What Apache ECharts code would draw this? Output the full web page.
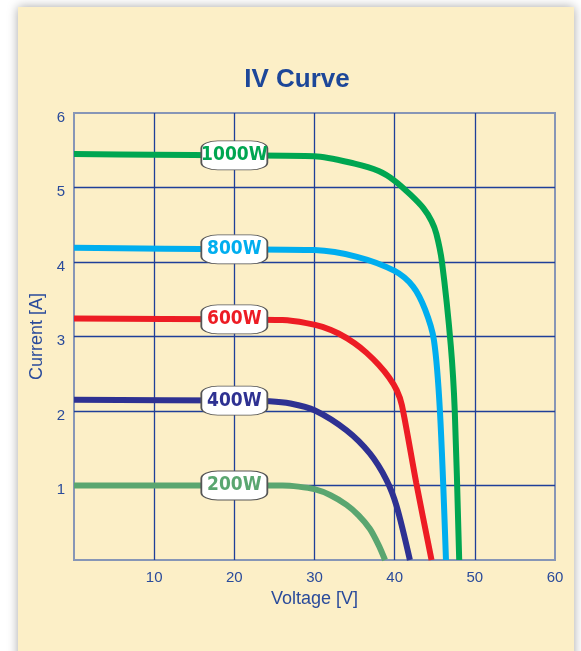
<!DOCTYPE html>
<html>
<head>
<meta charset="utf-8">
<script src="https://cdn.jsdelivr.net/npm/echarts@6/dist/echarts.min.js"></script>
<style>
  html, body { margin: 0; padding: 0; background: #fff; }
  #chart { width: 581px; height: 651px; }
</style>
</head>
<body>
<div id="chart"></div>
<script>
// values
const names = ['1000W', '800W', '600W', '400W', '200W'];
const colors = ['#00A651', '#00AEEF', '#ED1C24', '#2E3192', '#5AA670'];

const v1000 = [0, 10, 20, 30, 35, 38, 40, 42, 43.6, 44.6, 45.2, 45.9, 47.0, 47.5, 48.05];
const i1000 = [5.45, 5.44, 5.43, 5.42, 5.32, 5.22, 5.09, 4.9, 4.72, 4.55, 4.38, 4.0, 2.88, 1.99, 0];

const v800 = [0, 20, 30, 35.3, 40, 42.3, 43.8, 44.9, 45.65, 46.4];
const i800 = [4.19, 4.17, 4.16, 4.07, 3.88, 3.67, 3.36, 2.95, 1.99, 0];

const v600 = [0, 20, 26, 29, 31, 33, 35, 36.5, 38, 39.3, 40.25, 40.9, 42.7, 44.6];
const i600 = [3.24, 3.23, 3.22, 3.18, 3.13, 3.04, 2.91, 2.78, 2.62, 2.45, 2.28, 2.08, 1.03, 0];

const v400 = [0, 20, 24.4, 27, 30, 34, 36.9, 39, 40.25, 41.9];
const i400 = [2.15, 2.14, 2.13, 2.1, 2.01, 1.74, 1.43, 1.07, 0.72, 0];

const v200 = [0, 20, 26, 28, 30, 32, 34, 35.5, 36.9, 38, 38.8];
const i200 = [1.0, 1.0, 1.0, 0.985, 0.95, 0.87, 0.74, 0.6, 0.42, 0.2, 0];

const voltages = [v1000, v800, v600, v400, v200];
const currents = [i1000, i800, i600, i400, i200];
const labelVoltage = 20;

const xTicks = [0, 10, 20, 30, 40, 50, 60];
const yTicks = [0, 1, 2, 3, 4, 5, 6];

const myChart = echarts.init(document.getElementById('chart'));

const GRID_BLUE = '#1F3F99';
const TEXT_BLUE = '#2A4B9B';
const COND = '"DejaVu Sans Condensed", "Liberation Sans", sans-serif';

const series = names.map((name, k) => {
  const pts = voltages[k].map((v, j) => [v, currents[k][j]]);
  const li = voltages[k].indexOf(labelVoltage);
  return {
    name: name,
    type: 'line',
    data: pts,
    showSymbol: false,
    smooth: 0.3,
    lineStyle: { color: colors[k], width: 6 },
    z: 3,
    markPoint: {
      symbol: 'roundRect',
      symbolSize: [66, 29],
      itemStyle: { color: '#fff', borderColor: '#555', borderWidth: 1.2 },
      label: {
        show: true,
        position: 'inside',
        formatter: name,
        color: colors[k],
        fontSize: 19,
        fontWeight: 'bold',
        fontFamily: COND
      },
      data: [{ coord: [labelVoltage, currents[k][li]] }]
    }
  };
});

const options = {
  animation: false,
  graphic: [
    {
      type: 'rect',
      shape: { x: 18, y: 7, width: 556, height: 660 },
      style: { fill: '#FCEFC7', shadowBlur: 10, shadowColor: 'rgba(0,0,0,0.35)' },
      z: -10
    },
    {
      type: 'text',
      style: {
        x: 297, y: 80,
        text: 'IV Curve',
        fill: '#1D4799',
        font: 'bold 26px "Liberation Sans", sans-serif',
        textAlign: 'center',
        textVerticalAlign: 'middle'
      }
    }
  ],
  grid: {
    left: 74, right: 26, top: 113, bottom: 91,
    show: true,
    borderColor: '#8796B6',
    borderWidth: 2
  },
  xAxis: {
    type: 'value',
    min: xTicks[0], max: xTicks[xTicks.length - 1], interval: 10,
    name: 'Voltage [V]',
    nameLocation: 'middle',
    nameGap: 30,
    nameTextStyle: { color: TEXT_BLUE, fontSize: 18, fontFamily: '"Liberation Sans", sans-serif' },
    axisLine: { show: false },
    axisTick: { show: false },
    axisLabel: {
      showMinLabel: false,
      color: TEXT_BLUE, fontSize: 15, fontFamily: '"Liberation Sans", sans-serif', margin: 10
    },
    splitLine: {
      show: true,
      lineStyle: {
        color: xTicks.map((t, i) => (i === 0 || i === xTicks.length - 1) ? 'transparent' : GRID_BLUE),
        width: 1.3
      }
    }
  },
  yAxis: {
    type: 'value',
    min: yTicks[0], max: yTicks[yTicks.length - 1], interval: 1,
    name: 'Current [A]',
    nameLocation: 'middle',
    nameGap: 27,
    nameTextStyle: { color: TEXT_BLUE, fontSize: 18, fontFamily: '"Liberation Sans", sans-serif' },
    axisLine: { show: false },
    axisTick: { show: false },
    axisLabel: {
      showMinLabel: false,
      margin: 9,
      formatter: (v) => '{a|' + v + '}',
      rich: {
        a: {
          color: TEXT_BLUE, fontSize: 15, fontFamily: '"Liberation Sans", sans-serif',
          padding: [9, 0, 0, 0]
        }
      }
    },
    splitLine: {
      show: true,
      lineStyle: {
        color: yTicks.map((t, i) => (i === 0 || i === yTicks.length - 1) ? 'transparent' : GRID_BLUE),
        width: 1.3
      }
    }
  },
  series: series
};

options && myChart.setOption(options);
</script>
</body>
</html>
